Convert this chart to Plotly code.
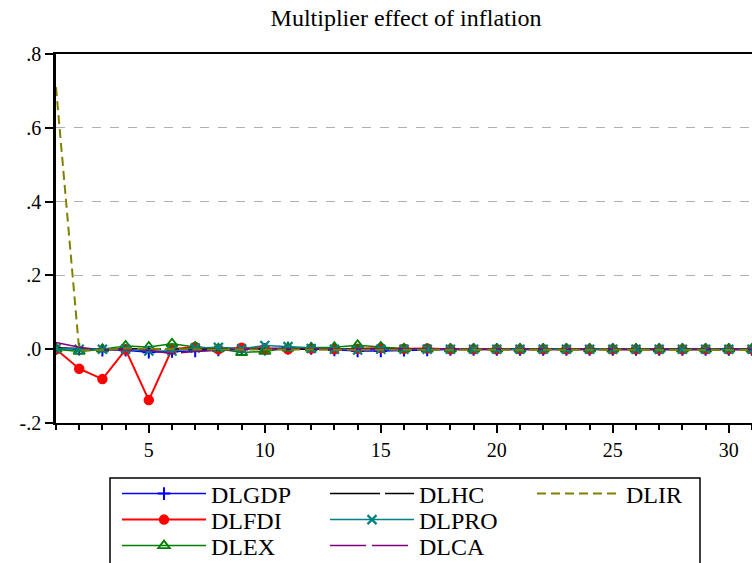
import plotly.graph_objects as go

periods = list(range(1, 32))

dlgdp = [0.002, 0.000, -0.003, -0.003, -0.008, -0.006, -0.005, -0.002, -0.001, 0.000,
         0.003, 0.002, -0.002, -0.005, -0.005, -0.003, -0.002, -0.001, -0.001, -0.001,
         -0.001, -0.001, -0.001, -0.001, -0.001, -0.001, -0.001, -0.001, -0.001, -0.001, -0.001]
dlfdi = [0.000, -0.053, -0.081, -0.001, -0.138, 0.000, 0.006, 0.000, 0.004, 0.001,
         0.000, 0.002, 0.000, 0.001, 0.003, 0.001, 0.002, 0.000, 0.000, 0.000,
         0.000, 0.000, 0.000, 0.000, 0.000, 0.000, 0.000, 0.000, 0.000, 0.000, 0.000]
dlex = [0.000, -0.006, 0.000, 0.009, 0.006, 0.015, 0.006, 0.001, -0.009, -0.006,
        0.003, 0.003, 0.005, 0.011, 0.006, 0.001, 0.000, 0.000, 0.000, 0.000,
        0.000, 0.000, 0.000, 0.000, 0.000, 0.000, 0.000, 0.000, 0.000, 0.000, 0.000]
dlhc = [0.004, 0.001, 0.000, 0.001, 0.000, -0.001, 0.000, 0.001, 0.000, 0.000,
        0.000, 0.000, 0.000, 0.000, 0.000, 0.000, 0.000, 0.000, 0.000, 0.000,
        0.000, 0.000, 0.000, 0.000, 0.000, 0.000, 0.000, 0.000, 0.000, 0.000, 0.000]
dlpro = [0.002, 0.000, 0.000, 0.000, -0.005, -0.005, 0.003, 0.005, 0.001, 0.010,
         0.007, 0.002, 0.000, -0.002, 0.000, 0.000, 0.000, 0.000, 0.000, 0.000,
         0.000, 0.000, 0.000, 0.000, 0.000, 0.000, 0.000, 0.000, 0.000, 0.000, 0.000]
dlca = [0.018, 0.005, -0.002, 0.000, -0.003, -0.012, -0.006, -0.002, 0.000, 0.001,
        0.001, 0.000, -0.001, -0.001, 0.000, 0.000, -0.001, -0.001, -0.001, -0.001,
        -0.001, -0.001, -0.001, -0.001, -0.001, -0.001, -0.001, -0.001, -0.001, -0.001, -0.001]
dlir = [0.710, -0.003, -0.002, 0.002, 0.001, 0.000, -0.002, -0.001, -0.001, -0.001,
        -0.001, -0.002, -0.002, -0.001, -0.001, -0.001, -0.002, -0.002, -0.002, -0.002,
        -0.002, -0.002, -0.002, -0.002, -0.002, -0.002, -0.002, -0.002, -0.002, -0.002, -0.002]

ytick_vals = [-0.2, 0.0, 0.2, 0.4, 0.6, 0.8]
ytick_text = ["-.2", ".0", ".2", ".4", ".6", ".8"]
xtick_vals = [5, 10, 15, 20, 25, 30]

SERIF = "Liberation Serif, Times New Roman, serif"

# plot area in pixels
L, T, B, W = 56, 54, 423, 696
H = B - T

def px_x(p):
    return (p - L) / W

def px_y(p):
    return (B - p) / H

fig = go.Figure()

def add(name, y, color, legend, dash="solid", symbol=None, msize=9, mline=1.5, width=1.5):
    mode = "lines+markers" if symbol else "lines"
    marker = None
    if symbol:
        marker = dict(symbol=symbol, size=msize, color=color,
                      line=dict(color=color, width=mline))
    fig.add_trace(go.Scatter(x=periods, y=y, name=name, mode=mode,
                             line=dict(color=color, width=width, dash=dash),
                             marker=marker, legend=legend))

add("DLGDP", dlgdp, "#0000FF", "legend", symbol="cross-thin", msize=9, mline=2)
add("DLFDI", dlfdi, "#FF0000", "legend2", symbol="circle", msize=9, width=2)
add("DLEX", dlex, "#008000", "legend3", symbol="triangle-up-open", msize=10, mline=1.8)
add("DLHC", dlhc, "#000000", "legend4", dash="50px,5px")
add("DLPRO", dlpro, "#008080", "legend5", symbol="x-thin", msize=9, mline=2.2)
add("DLCA", dlca, "#800080", "legend6", dash="36px,6px")
add("DLIR", dlir, "#808000", "legend7", dash="9px,5px", width=2)

legend_common = dict(font=dict(family=SERIF, size=24, color="#000"),
                     bgcolor="rgba(0,0,0,0)", borderwidth=0,
                     xanchor="left", yanchor="middle", itemwidth=84,
                     tracegroupgap=0, orientation="v")

col_x = [117, 325, 532]
row_y = [494, 520, 546]

legends = {}
slots = [(0, 0), (0, 1), (0, 2), (1, 0), (1, 1), (1, 2), (2, 0)]
for i, (c, r) in enumerate(slots):
    key = "legend" if i == 0 else "legend%d" % (i + 1)
    legends[key] = dict(x=px_x(col_x[c]), y=px_y(row_y[r]), **legend_common)

fig.update_layout(
    width=752, height=563,
    margin=dict(l=L, r=0, t=T, b=563 - B, autoexpand=False),
    paper_bgcolor="white", plot_bgcolor="white",
    title=dict(text="Multiplier effect of inflation", x=406/752, xref="container",
               xanchor="center", y=1 - 18/563, yref="container", yanchor="middle",
               font=dict(family=SERIF, size=24, color="#000")),
    showlegend=True,
    xaxis=dict(range=[1, 31.0], tickvals=xtick_vals, ticks="outside", ticklen=8,
               tickwidth=1.5, tickcolor="#000",
               minor=dict(dtick=1, tick0=0, ticks="outside", ticklen=5, tickcolor="#000", tickwidth=1.5),
               showline=True, linecolor="#000", linewidth=2, mirror=True,
               showgrid=False, zeroline=False,
               tickfont=dict(family=SERIF, size=20, color="#000")),
    yaxis=dict(range=[-0.2, 0.8], tickvals=ytick_vals, ticktext=ytick_text,
               ticks="outside", ticklen=8, tickwidth=1.5, tickcolor="#000",
               showline=True, linecolor="#000", linewidth=2.5,
               showgrid=True, gridcolor="#b0b0b0", griddash="dash", gridwidth=1,
               zeroline=False,
               tickfont=dict(family=SERIF, size=20, color="#000")),
    shapes=[dict(type="rect", xref="paper", yref="paper",
                 x0=px_x(110), x1=px_x(700),
                 y0=px_y(570), y1=px_y(478),
                 line=dict(color="#000", width=1.5), fillcolor="rgba(0,0,0,0)", layer="above")],
    **legends,
)

fig.write_html("out.html", config={"displayModeBar": False},
               post_script="document.body.style.margin='0px';document.body.style.overflow='hidden';")
